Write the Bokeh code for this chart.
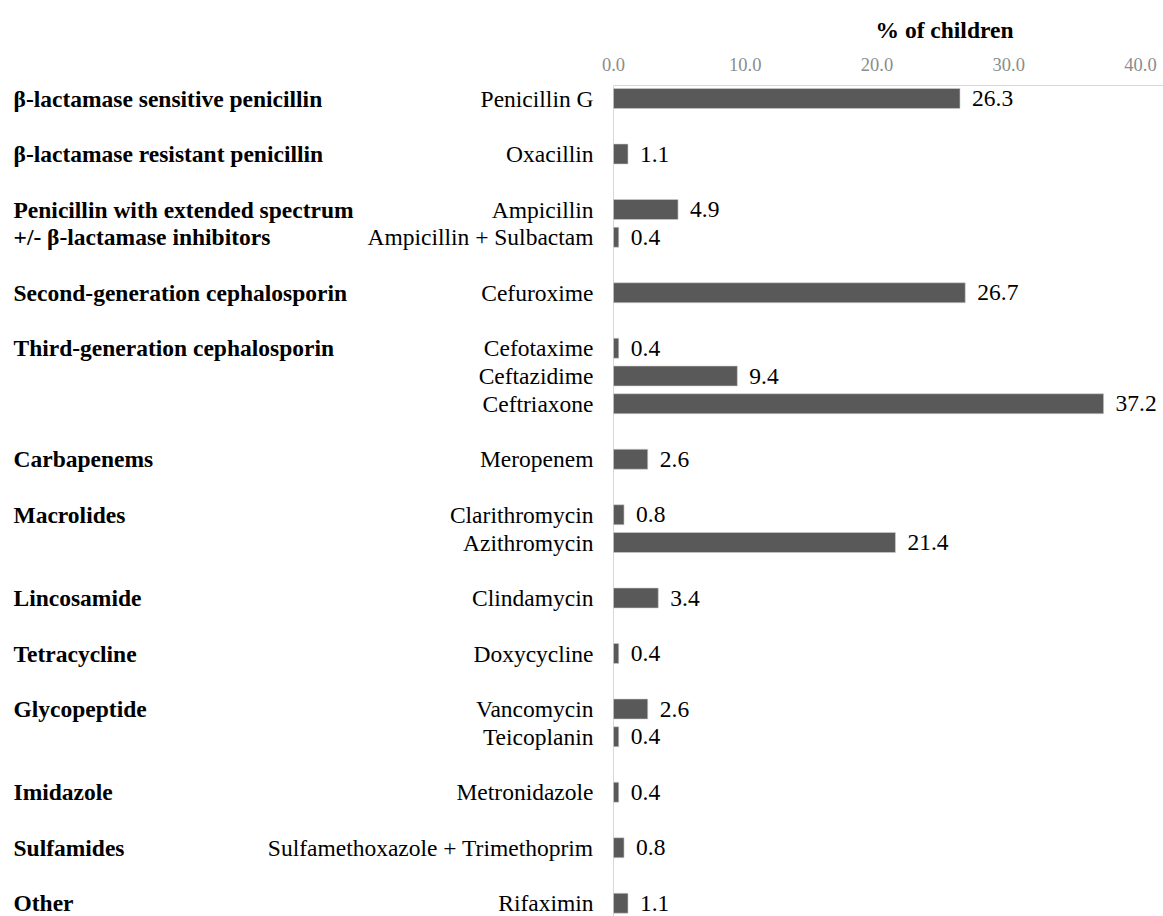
from bokeh.plotting import figure
from bokeh.models import Range1d, FixedTicker, PrintfTickFormatter, ColumnDataSource
from bokeh.core.properties import value
from bokeh.embed import file_html
from bokeh.resources import INLINE

# ---- data ----
groups = [
    "β-lactamase sensitive penicillin",
    "β-lactamase resistant penicillin",
    "Penicillin with extended spectrum\n+/- β-lactamase inhibitors",
    "Second-generation cephalosporin",
    "Third-generation cephalosporin",
    "Carbapenems",
    "Macrolides",
    "Lincosamide",
    "Tetracycline",
    "Glycopeptide",
    "Imidazole",
    "Sulfamides",
    "Other",
]
group_drugs = [
    ["Penicillin G"],
    ["Oxacillin"],
    ["Ampicillin", "Ampicillin + Sulbactam"],
    ["Cefuroxime"],
    ["Cefotaxime", "Ceftazidime", "Ceftriaxone"],
    ["Meropenem"],
    ["Clarithromycin", "Azithromycin"],
    ["Clindamycin"],
    ["Doxycycline"],
    ["Vancomycin", "Teicoplanin"],
    ["Metronidazole"],
    ["Sulfamethoxazole + Trimethoprim"],
    ["Rifaximin"],
]
group_values = [
    [26.3],
    [1.1],
    [4.9, 0.4],
    [26.7],
    [0.4, 9.4, 37.2],
    [2.6],
    [0.8, 21.4],
    [3.4],
    [0.4],
    [2.6, 0.4],
    [0.4],
    [0.8],
    [1.1],
]
x_ticks = [0, 10, 20, 30, 40]
axis_title = "% of children"

# ---- layout of rows (slot index, one empty slot between groups) ----
drug_names, drug_vals, drug_pos = [], [], []
grp_text, grp_pos = [], []
slot = 0
for g, ds, vs in zip(groups, group_drugs, group_values):
    for i, line in enumerate(g.split("\n")):
        grp_text.append(line)
        grp_pos.append(slot + i)
    for d, v in zip(ds, vs):
        drug_names.append(d)
        drug_vals.append(v)
        drug_pos.append(slot)
        slot += 1
    slot += 1

src = ColumnDataSource(dict(name=drug_names, val=drug_vals, pos=drug_pos,
                            lab=[f"{v:.1f}" for v in drug_vals]))
gsrc = ColumnDataSource(dict(text=grp_text, pos=grp_pos))

W, H = 1163, 916
PX = 13.175          # pixels per unit
X0 = 613             # canvas x of value 0
TOP = 85             # canvas y of frame top
ROW = 27.75          # pixels per slot
ROW0 = 98            # canvas y of slot 0

x_start = -X0 / PX
x_end = (W - X0) / PX
y_top = -(ROW0 - TOP) / ROW
y_bot = (H - ROW0) / ROW

p = figure(width=W, height=H, output_backend="svg", toolbar_location=None,
           x_range=Range1d(x_start, x_end), y_range=Range1d(y_bot, y_top),
           x_axis_location="above", min_border_left=0, min_border_right=0,
           min_border_top=TOP, min_border_bottom=0)
p.outline_line_color = None
p.grid.visible = False
p.background_fill_color = "white"
p.yaxis.visible = False

p.title.text = axis_title
p.title.align = "left"
p.title.offset = 875
p.title.text_font = "Liberation Serif"
p.title.text_font_size = "23.5px"
p.title.text_font_style = "bold"
p.title.text_color = "black"
p.title.standoff = 23

ax = p.xaxis[0]
ax.ticker = FixedTicker(ticks=x_ticks)
ax.formatter = PrintfTickFormatter(format="%.1f")
ax.bounds = (0, x_end)
ax.axis_line_color = "#d9d9d9"
ax.major_tick_line_color = None
ax.minor_tick_line_color = None
ax.major_label_text_font = "Liberation Serif"
ax.major_label_text_font_size = "18.5px"
ax.major_label_text_color = "#8c8c8c"
ax.major_label_standoff = 9

# vertical axis line at 0
p.segment(x0=[0], x1=[0], y0=[y_top], y1=[y_bot], line_color="#d9d9d9", line_width=1)

p.hbar(y="pos", right="val", left=0, height=0.72, source=src,
       fill_color="#595959", line_color="#d0d0d0", line_width=0.6)

serif = value("Liberation Serif")
p.text(x=-20 / PX, y="pos", text="name", source=src, text_align="right",
       text_baseline="middle", text_font=serif, text_font_size="23.5px", text_color="black")
p.text(x="val", y="pos", text="lab", source=src, x_offset=12, text_align="left",
       text_baseline="middle", text_font=serif, text_font_size="23.5px", text_color="black")
p.text(x=(13 - X0) / PX, y="pos", text="text", source=gsrc, text_align="left",
       text_baseline="middle", text_font=serif, text_font_size="23.5px",
       text_font_style="bold", text_color="black")

open("out.html", "w").write(file_html(p, INLINE))
